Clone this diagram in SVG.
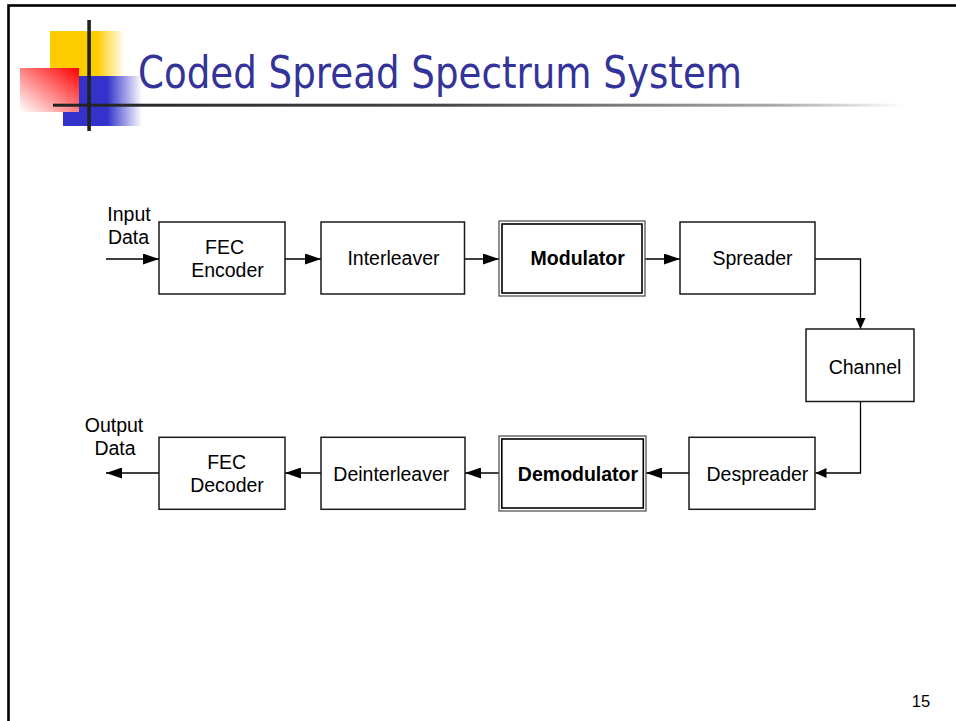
<svg xmlns="http://www.w3.org/2000/svg" width="956" height="721" viewBox="0 0 956 721">
<style>
.box{fill:#fff;stroke:#1a1a1a;stroke-width:1.5}
.outer{fill:#fff;stroke:#555;stroke-width:1.3}
.inner{fill:none;stroke:#000;stroke-width:1.6}
.t{font-family:"Liberation Sans",Arial,sans-serif;font-size:19.5px;fill:#000;text-anchor:middle}
.b{font-weight:bold}
.conn{fill:none;stroke:#000;stroke-width:1.3}
</style>
<defs>
<marker id="ah" viewBox="0 0 16 11" refX="16" refY="5.5" markerWidth="16" markerHeight="11" markerUnits="userSpaceOnUse" orient="auto"><path d="M0,0 L16,5.5 L0,11 z" fill="#000"/></marker>
<marker id="as" viewBox="0 0 11 10" refX="11" refY="5" markerWidth="11" markerHeight="10" markerUnits="userSpaceOnUse" orient="auto"><path d="M0,0 L11,5 L0,10 z" fill="#000"/></marker>
<linearGradient id="gy" x1="0" y1="0" x2="1" y2="0"><stop offset="0" stop-color="#FFCC00"/><stop offset="0.62" stop-color="#FFCC00"/><stop offset="1" stop-color="#FFCC00" stop-opacity="0"/></linearGradient>
<linearGradient id="gb" x1="0" y1="0" x2="1" y2="0"><stop offset="0" stop-color="#3333CC"/><stop offset="0.56" stop-color="#3333CC"/><stop offset="1" stop-color="#3333CC" stop-opacity="0"/></linearGradient>
<linearGradient id="gr" x1="1" y1="0" x2="0" y2="1"><stop offset="0" stop-color="#FF0000"/><stop offset="0.5" stop-color="#FF8080"/><stop offset="1" stop-color="#FFFFFF"/></linearGradient>
<linearGradient id="gl" gradientUnits="userSpaceOnUse" x1="53" y1="0" x2="905" y2="0"><stop offset="0" stop-color="#222"/><stop offset="0.45" stop-color="#444"/><stop offset="0.85" stop-color="#aaa"/><stop offset="1" stop-color="#fff"/></linearGradient>
</defs>
<rect x="0" y="0" width="956" height="721" fill="#fff"/>
<rect x="8.5" y="5.5" width="970" height="740" fill="none" stroke="#000" stroke-width="2.6"/>
<g id="logo">
<rect x="50" y="31" width="75" height="45" fill="url(#gy)"/>
<rect x="63" y="76" width="79" height="50" fill="url(#gb)"/>
<rect x="20" y="68" width="59" height="44" fill="url(#gr)"/>
<rect x="53" y="103.7" width="852" height="3" fill="url(#gl)"/>
<rect x="87.3" y="20" width="3.6" height="111" fill="#222"/>
</g>
<text x="138" y="87.5" font-family="'DejaVu Sans',Tahoma,Verdana,sans-serif" font-size="44" fill="#333399" textLength="604" lengthAdjust="spacingAndGlyphs">Coded Spread Spectrum System</text>
<g id="connectors">
<path class="conn" d="M106,259 H159" marker-end="url(#ah)"/>
<path class="conn" d="M285,259 H321" marker-end="url(#ah)"/>
<path class="conn" d="M465,259 H499" marker-end="url(#ah)"/>
<path class="conn" d="M645,259 H680" marker-end="url(#ah)"/>
<path class="conn" d="M815,259 H860.5 V329" marker-end="url(#as)"/>
<path class="conn" d="M860.5,402 V473 H815.5" marker-end="url(#as)"/>
<path class="conn" d="M689,473 H646" marker-end="url(#ah)"/>
<path class="conn" d="M499,473 H465" marker-end="url(#ah)"/>
<path class="conn" d="M321,473 H285" marker-end="url(#ah)"/>
<path class="conn" d="M159,473 H106" marker-end="url(#ah)"/>
</g>
<g id="input-label"><text class="t" x="129" y="221">Input</text><text class="t" x="128.5" y="244">Data</text></g>
<g id="output-label"><text class="t" x="114" y="432">Output</text><text class="t" x="115" y="455">Data</text></g>
<g id="fec-encoder"><rect class="box" x="159" y="222" width="126" height="72"/><text class="t" x="224.5" y="254">FEC</text><text class="t" x="227.5" y="277">Encoder</text></g>
<g id="interleaver"><rect class="box" x="321" y="222" width="143.5" height="72"/><text class="t" x="393.5" y="265">Interleaver</text></g>
<g id="modulator"><rect class="outer" x="499" y="221" width="146" height="75"/><rect class="inner" x="502" y="224" width="140" height="69"/><text class="t b" x="577.7" y="265">Modulator</text></g>
<g id="spreader"><rect class="box" x="680" y="222" width="135" height="72"/><text class="t" x="752.5" y="265">Spreader</text></g>
<g id="channel"><rect class="box" x="806" y="329" width="108" height="72.5"/><text class="t" x="865" y="374">Channel</text></g>
<g id="despreader"><rect class="box" x="689" y="437.3" width="126" height="72"/><text class="t" x="757.4" y="481">Despreader</text></g>
<g id="demodulator"><rect class="outer" x="499" y="436" width="147" height="75"/><rect class="inner" x="501.8" y="439" width="141.5" height="69"/><text class="t b" x="578" y="481">Demodulator</text></g>
<g id="deinterleaver"><rect class="box" x="321" y="437.3" width="144" height="72"/><text class="t" x="391.3" y="481">Deinterleaver</text></g>
<g id="fec-decoder"><rect class="box" x="159" y="437.3" width="126" height="72"/><text class="t" x="226.7" y="469">FEC</text><text class="t" x="227" y="492">Decoder</text></g>
<text x="921" y="706.5" font-family="'Liberation Sans',Arial,sans-serif" font-size="16.5" fill="#000" text-anchor="middle">15</text>
</svg>
